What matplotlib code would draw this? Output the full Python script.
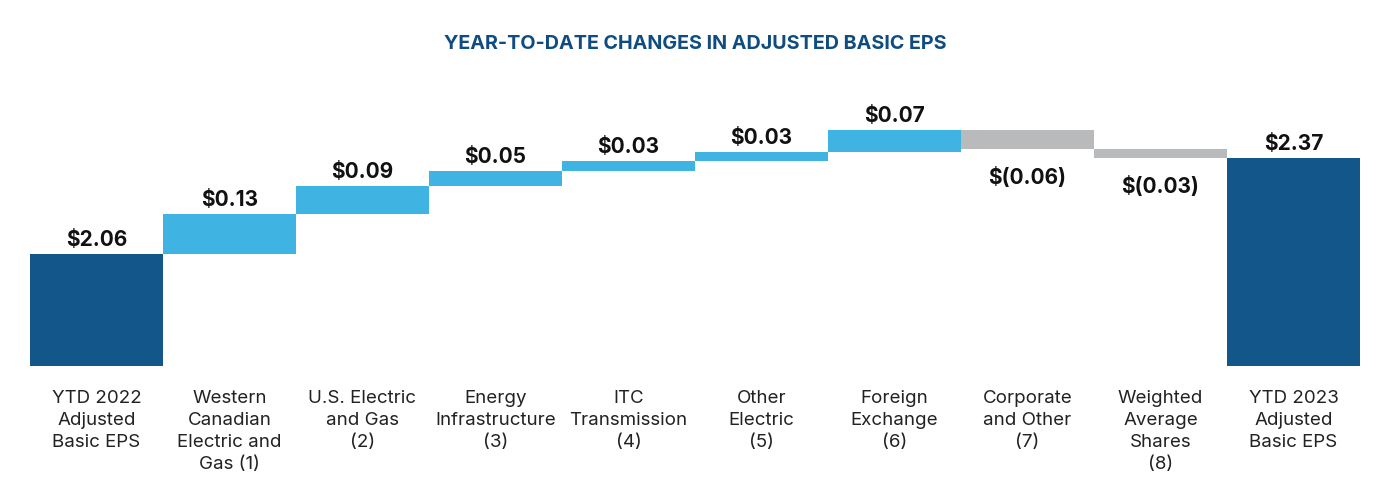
"""Waterfall chart of year-to-date changes in adjusted basic EPS."""
import matplotlib

matplotlib.use("Agg")
import matplotlib.pyplot as plt
import numpy as np

categories = [
    "YTD 2022\nAdjusted\nBasic EPS",
    "Western\nCanadian\nElectric and\nGas (1)",
    "U.S. Electric\nand Gas\n(2)",
    "Energy\nInfrastructure\n(3)",
    "ITC\nTransmission\n(4)",
    "Other\nElectric\n(5)",
    "Foreign\nExchange\n(6)",
    "Corporate\nand Other\n(7)",
    "Weighted\nAverage\nShares\n(8)",
    "YTD 2023\nAdjusted\nBasic EPS",
]
start_eps = 2.06
changes = [0.13, 0.09, 0.05, 0.03, 0.03, 0.07, -0.06, -0.03]
end_eps = 2.37

DARK_BLUE = "#12568a"
LIGHT_BLUE = "#3fb4e2"
GREY = "#b9babc"
TITLE_BLUE = "#0f4c81"

plt.rcParams["font.family"] = ["Inter", "DejaVu Sans"]

fig = plt.figure(figsize=(13.9, 5), dpi=100)
ax = fig.add_axes([30 / 1390, 0.268, 1330 / 1390, 0.558])

x = np.arange(len(categories))
changes = np.array(changes)
level_before = start_eps + np.concatenate([[0], np.cumsum(changes)[:-1]])
step_bottom = np.where(changes >= 0, level_before, level_before + changes)
step_height = np.abs(changes)
step_colors = [LIGHT_BLUE if c >= 0 else GREY for c in changes]

# totals
ax.bar([x[0], x[-1]], [start_eps, end_eps], width=1.0, color=DARK_BLUE)
# steps
ax.bar(x[1:-1], step_height, bottom=step_bottom, width=1.0, color=step_colors)


def fmt(v):
    return f"${v:.2f}" if v >= 0 else f"$({abs(v):.2f})"


label_kw = dict(ha="center", fontsize=15, fontweight="bold", color="#111111",
                textcoords="offset points")
ax.annotate(fmt(start_eps), (x[0], start_eps), xytext=(0, 3), va="bottom", **label_kw)
ax.annotate(fmt(end_eps), (x[-1], end_eps), xytext=(0, 3), va="bottom", **label_kw)
for xi, b, h, c in zip(x[1:-1], step_bottom, step_height, changes):
    if c >= 0:
        ax.annotate(fmt(c), (xi, b + h), xytext=(0, 3), va="bottom", **label_kw)
    else:
        ax.annotate(fmt(c), (xi, b), xytext=(0, -13), va="top", **label_kw)

ax.set_xlim(-0.5, len(categories) - 0.5)
ax.set_ylim(1.70, 2.60)
ax.set_xticks(x)
ax.set_xticklabels(categories, fontsize=13.5, color="#222222", linespacing=1.4,
                   va="top")
ax.tick_params(axis="x", length=0, pad=17)
ax.set_yticks([])
for s in ax.spines.values():
    s.set_visible(False)

fig.text(0.5, 1 - 44 / 500, "YEAR-TO-DATE CHANGES IN ADJUSTED BASIC EPS",
         ha="center", va="center", fontsize=14.2, fontweight="bold",
         color=TITLE_BLUE)

fig.savefig("out.png", dpi=100)
